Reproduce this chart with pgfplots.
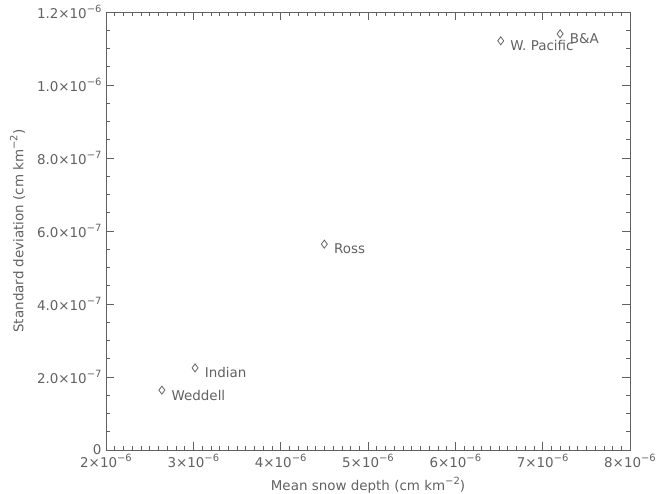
\documentclass[border=0pt]{standalone}
\usepackage{pgfplots}
\pgfplotsset{compat=1.18}
\usepackage{fontspec}
\setmainfont{DejaVu Sans}
\newcommand\mysup[1]{\raisebox{0.45em}{\fontsize{10}{10}\selectfont #1}}
\newcommand\sci[2]{#1×10\mysup{−#2}}
\definecolor{ink}{gray}{0.38}
\begin{document}
\begin{tikzpicture}[x=1bp,y=1bp]
\begin{axis}[
  name=ax,
  scale only axis,
  width=524bp, height=438bp,
  xmin=2e-6, xmax=8e-6,
  ymin=0, ymax=1.2e-6,
  xtick={2e-6,3e-6,4e-6,5e-6,6e-6,7e-6,8e-6},
  xticklabels={\sci{2}{6},\sci{3}{6},\sci{4}{6},\sci{5}{6},\sci{6}{6},\sci{7}{6},\sci{8}{6}},
  ytick={0,2e-7,4e-7,6e-7,8e-7,1e-6,1.2e-6},
  yticklabels={0,\sci{2.0}{7},\sci{4.0}{7},\sci{6.0}{7},\sci{8.0}{7},\sci{1.0}{6},\sci{1.2}{6}},
  minor x tick num=9,
  minor y tick num=3,
  tick align=inside,
  major tick length=8bp,
  minor tick length=4bp,
  axis line style={ink, line width=0.9pt},
  every tick/.style={ink, line width=0.6pt},
  tick label style={font=\fontsize{13.5}{15}\selectfont, text=ink},
  xticklabel style={yshift=-1bp},
  yticklabel style={xshift=-1bp},
  xlabel={Mean snow depth (cm km\mysup{−2})},
  ylabel={Standard deviation (cm km\mysup{−2})},
  label style={font=\fontsize{13.5}{15}\selectfont, text=ink},
  xlabel style={yshift=-2bp},
  ylabel style={yshift=5bp},
  scaled ticks=false,
  clip=false,
]
\addplot[only marks, mark=diamond, mark size=4bp, mark options={ink, line width=0.8pt},
  point meta=explicit symbolic,
  nodes near coords,
  nodes near coords style={anchor=west, xshift=6bp, yshift=-5bp, text=ink, font=\fontsize{13.5}{15}\selectfont},
] table[meta=label, col sep=comma] {
x,y,label
2.64e-6,1.64e-7,Weddell
3.02e-6,2.25e-7,Indian
4.50e-6,5.64e-7,Ross
6.52e-6,1.121e-6,W. Pacific
7.20e-6,1.140e-6,B\&A
};
\end{axis}
\pgfresetboundingbox
\path ([xshift=-106bp,yshift=-44bp]ax.south west) rectangle ([xshift=26bp,yshift=12bp]ax.north east);
\end{tikzpicture}
\end{document}
